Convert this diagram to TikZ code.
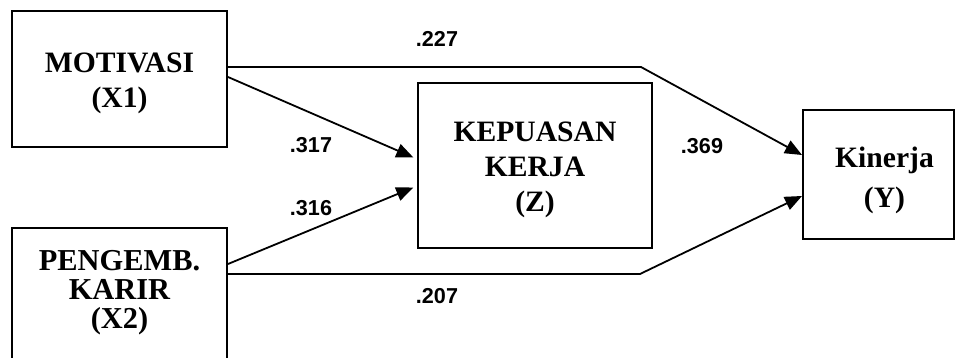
\documentclass[tikz,border=0pt]{standalone}
\usepackage{fontspec}
\setmainfont{Liberation Serif}
\newfontfamily\labfont{Liberation Sans}
\usetikzlibrary{arrows.meta}
\newcommand{\lowerby}[2]{\raisebox{-#1}[\height][\depth]{#2}}
\tikzset{
  x=0.5pt, y=-0.5pt,
  box/.style={draw=black, line width=1pt, inner sep=0pt,
    font=\fontsize{14.8pt}{17.5pt}\selectfont\bfseries},
  conn/.style={draw=black, line width=0.9pt},
  arr/.style={conn, -{Triangle[length=8.5pt,width=7pt]}},
  coef/.style={font=\labfont\fontsize{10.8pt}{12pt}\selectfont\bfseries, inner sep=0pt}
}
\begin{document}
\begin{tikzpicture}
\useasboundingbox (0,0) rectangle (955,358);
\clip (0,0) rectangle (955,358);
% boxes
\node[box, minimum width=107.5pt, minimum height=68pt] (motiv) at (119.5,79)
  {\lowerby{2pt}{\begin{tabular}{@{}c@{}}MOTIVASI\\(X1)\end{tabular}}};
\node[box, minimum width=117pt, minimum height=82.5pt] (kepuasan) at (535,165.5)
  {\lowerby{2pt}{\begin{tabular}{@{}c@{}}KEPUASAN\\KERJA\\(Z)\end{tabular}}};
\node[box, minimum width=75.5pt, minimum height=64.5pt] (kinerja) at (878.5,174.5)
  {\hspace*{6pt}\lowerby{2.5pt}{\fontsize{14.8pt}{20pt}\selectfont\begin{tabular}{@{}c@{}}Kinerja\\(Y)\end{tabular}}};
\node[box, anchor=north, minimum width=107.5pt, inner ysep=11.4pt, text depth=60pt] (pengemb) at (119.5,227)
  {\fontsize{15.2pt}{13.75pt}\selectfont\begin{tabular}[t]{@{}c@{}}PENGEMB.\\KARIR\\(X2)\end{tabular}};
% coordinates
\coordinate (b1) at (641,67);
\coordinate (t1) at (803,155);
\coordinate (s2) at (227,77);
\coordinate (e2) at (418,159);
\coordinate (s3) at (227,264);
\coordinate (e3) at (418,186);
\coordinate (b4) at (640,274);
\coordinate (t4) at (803,196);
% connectors
\draw[arr] (motiv.east |- b1) -- (b1) -- (kinerja.west |- t1);
\draw[arr, shorten >=2pt] (motiv.east |- s2) -- (kepuasan.west |- e2);
\draw[arr, shorten >=2pt] (pengemb.east |- s3) -- (kepuasan.west |- e3);
\draw[arr] (pengemb.east |- b4) -- (b4) -- (kinerja.west |- t4);
% coefficients
\node[coef] (c227) at (437,39) {.227};
\node[coef] (c317) at (311,145) {.317};
\node[coef] (c316) at (311,208) {.316};
\node[coef] (c207) at (437,296) {.207};
\node[coef] (c369) at (702,146) {.369};
\end{tikzpicture}
\end{document}
